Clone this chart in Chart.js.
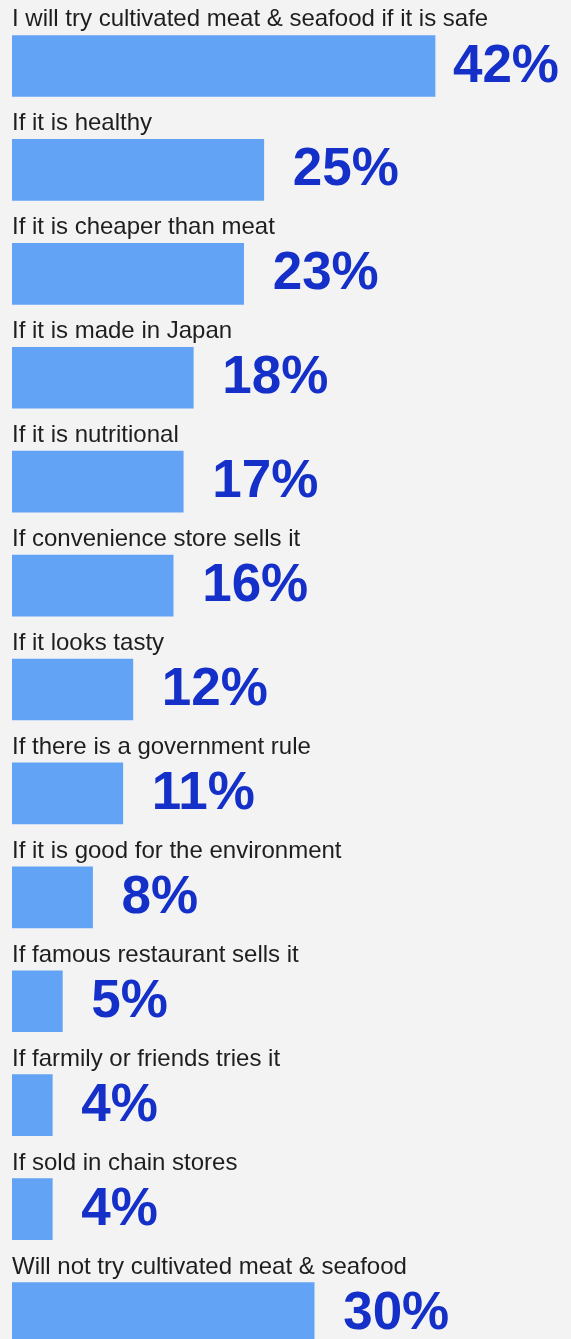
<!DOCTYPE html>
<html>
<head>
<meta charset="utf-8">
<script src="https://cdn.jsdelivr.net/npm/chart.js@4/dist/chart.umd.min.js"></script>
<style>
  html, body { margin: 0; padding: 0; background: #f3f3f3; overflow: hidden; }
  #wrap { width: 571px; height: 1339px; overflow: hidden; }
  canvas { display: block; }
</style>
</head>
<body>
<div id="wrap"><canvas id="chart" width="571" height="1365"></canvas></div>
<script>
// ── DATA ──────────────────────────────────────────────────────────────────────
const categories = [
    'I will try cultivated meat & seafood if it is safe',
    'If it is healthy',
    'If it is cheaper than meat',
    'If it is made in Japan',
    'If it is nutritional',
    'If convenience store sells it',
    'If it looks tasty',
    'If there is a government rule',
    'If it is good for the environment',
    'If famous restaurant sells it',
    'If farmily or friends tries it',
    'If sold in chain stores',
    'Will not try cultivated meat & seafood'
];
const shares = [42, 25, 23, 18, 17, 16, 12, 11, 8, 5, 4, 4, 30];

const BAR_COLOR   = '#63a3f6';
const VALUE_COLOR = '#1430c8';
const LABEL_COLOR = '#1e1e1e';
const FONT        = '"Liberation Sans", Arial, Helvetica, sans-serif';

// ── LABELS: category text above each bar, big percentage to its right ─────────
const barLabels = {
    id: 'barLabels',
    afterDatasetsDraw(chart) {
        const ctx = chart.ctx;
        const meta = chart.getDatasetMeta(0);
        const right = chart.width - 12;
        ctx.save();
        meta.data.forEach((bar, i) => {
            const top = bar.y - bar.height / 2;

            ctx.font = '24px ' + FONT;
            ctx.fillStyle = LABEL_COLOR;
            ctx.textAlign = 'left';
            ctx.textBaseline = 'alphabetic';
            ctx.fillText(categories[i], bar.base, top - 9);

            const txt = shares[i] + '%';
            ctx.font = 'bold 53px ' + FONT;
            ctx.fillStyle = VALUE_COLOR;
            ctx.textBaseline = 'middle';
            const w = ctx.measureText(txt).width;
            const x = Math.min(bar.x + 29, right - w);
            ctx.fillText(txt, x, bar.y + 1);
        });
        ctx.restore();
    }
};

// ── CHART ─────────────────────────────────────────────────────────────────────
new Chart(document.getElementById('chart').getContext('2d'), {
    type: 'bar',
    data: {
        labels: categories,
        datasets: [{
            data: shares,
            backgroundColor: BAR_COLOR,
            borderWidth: 0,
            barThickness: 61
        }]
    },
    options: {
        indexAxis: 'y',
        responsive: false,
        animation: false,
        devicePixelRatio: 1,
        layout: { padding: { left: 12, right: 0, top: 14, bottom: 0 } },
        plugins: { legend: { display: false }, tooltip: { enabled: false } },
        scales: {
            x: { display: false, min: 0, max: 55.5 },
            y: { display: false }
        }
    },
    plugins: [barLabels]
});
</script>
</body>
</html>
